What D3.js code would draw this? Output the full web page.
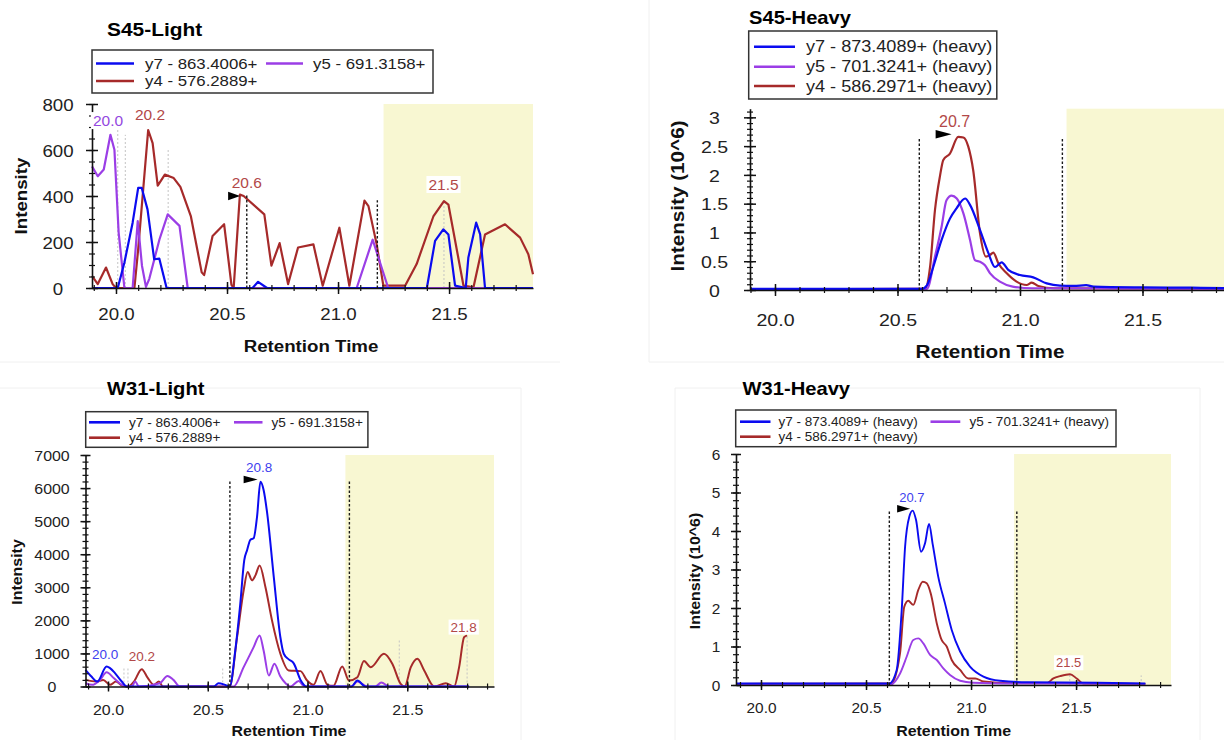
<!DOCTYPE html>
<html>
<head>
<meta charset="utf-8">
<script src="https://cdn.jsdelivr.net/npm/d3@7/dist/d3.min.js"></script>
<style>
html,body{margin:0;padding:0;background:#fff;}
svg{display:block;}
</style>
</head>
<body>
<svg id="chart" width="1224" height="740"></svg>
<script>
// ================= DATA =================
const xTickValues = [20.0, 20.5, 21.0, 21.5];
const s45LightYTicks = [0, 200, 400, 600, 800];
const s45HeavyYTicks = [0, 0.5, 1, 1.5, 2, 2.5, 3];
const w31LightYTicks = [0, 1000, 2000, 3000, 4000, 5000, 6000, 7000];
const w31HeavyYTicks = [0, 1, 2, 3, 4, 5, 6];

const lightLegend = ['y7 - 863.4006+', 'y5 - 691.3158+', 'y4 - 576.2889+'];
const heavyLegend = ['y7 - 873.4089+ (heavy)', 'y5 - 701.3241+ (heavy)', 'y4 - 586.2971+ (heavy)'];

// ---- S45-Light (intensity) : [retention time, intensity]
const s45LightY7 = [[19.892,0],[20.008,0],[20.038,111],[20.075,284],[20.1,435],[20.116,435],[20.142,342],[20.172,125],[20.195,128],[20.228,0],[20.615,0],[20.64,27],[20.68,0],[21.4,0],[21.437,205],[21.474,255],[21.497,233],[21.527,10],[21.575,0],[21.587,133],[21.622,284],[21.64,233],[21.662,0],[21.878,0]];
const s45LightY5 = [[19.892,529],[19.918,486],[19.945,515],[19.975,666],[19.993,601],[20.012,241],[20.038,0],[20.075,0],[20.098,291],[20.117,97],[20.135,5],[20.15,40],[20.196,212],[20.233,320],[20.286,270],[20.323,0],[21.084,0],[21.156,210],[21.226,0],[21.878,0]];
const s45LightY4 = [[19.892,53],[19.918,17],[19.955,89],[19.985,17],[20.0,0],[20.083,0],[20.1,169],[20.145,687],[20.165,630],[20.188,445],[20.22,493],[20.26,478],[20.29,440],[20.337,313],[20.386,68],[20.397,56],[20.435,226],[20.487,277],[20.52,14],[20.53,0],[20.558,406],[20.575,400],[20.668,320],[20.7,97],[20.737,195],[20.775,17],[20.82,176],[20.889,190],[20.931,10],[21.006,262],[21.051,10],[21.119,380],[21.137,356],[21.174,190],[21.204,10],[21.302,10],[21.354,104],[21.43,313],[21.477,378],[21.497,363],[21.565,10],[21.61,3],[21.662,233],[21.752,277],[21.82,219],[21.857,147],[21.878,60]];
const s45LightMarkers = [[20.008,688],[20.042,666],[20.235,600],[21.477,378]];
const s45LightBounds = [[20.589,406],[21.177,382]];
const s45LightLabels = [[19.964,704,'20.0','y5'],[20.153,730,'20.2','y4'],[20.589,435,'20.6','y4'],[21.475,426,'21.5','y4']];
const s45LightArrow = [20.559,400];

// ---- S45-Heavy (intensity x10^6)
const s45HeavyY7 = [[19.898,0.02],[20.6,0.02],[20.62,0.08],[20.646,0.40],[20.68,0.87],[20.714,1.24],[20.741,1.42],[20.776,1.59],[20.796,1.48],[20.837,1.04],[20.871,0.64],[20.898,0.40],[20.925,0.48],[20.952,0.35],[21.0,0.26],[21.054,0.22],[21.109,0.115],[21.163,0.075],[21.22,0.07],[21.27,0.085],[21.3,0.06],[21.5,0.045],[21.7,0.04],[21.9,0.03]];
const s45HeavyY5 = [[19.898,0.01],[20.62,0.02],[20.653,0.58],[20.68,1.10],[20.7,1.56],[20.721,1.64],[20.742,1.59],[20.769,1.33],[20.796,0.87],[20.816,0.52],[20.837,0.49],[20.857,0.43],[20.878,0.29],[20.918,0.145],[20.97,0.06],[21.05,0.03],[21.9,0.02]];
const s45HeavyY4 = [[19.898,0.01],[20.612,0.02],[20.633,0.40],[20.653,1.39],[20.673,1.97],[20.687,2.26],[20.714,2.37],[20.748,2.66],[20.769,2.65],[20.789,2.49],[20.809,2.08],[20.837,0.98],[20.861,0.58],[20.878,0.61],[20.891,0.65],[20.912,0.46],[20.946,0.29],[20.986,0.145],[21.027,0.087],[21.048,0.127],[21.075,0.07],[21.14,0.03],[21.9,0.02]];
const s45HeavyMarkers = [];
const s45HeavyBounds = [[20.589,2.65],[21.173,2.65]];
const s45HeavyLabels = [[20.733,2.84,'20.7','y4']];
const s45HeavyArrow = [20.721,2.706];

// ---- W31-Light (intensity)
const w31LightY7 = [[19.887,505],[19.917,300],[19.946,150],[19.993,605],[20.01,555],[20.035,404],[20.069,150],[20.094,0],[20.53,0],[20.554,100],[20.587,50],[20.61,0],[20.638,1090],[20.663,2500],[20.683,3820],[20.697,4120],[20.714,4440],[20.73,4480],[20.747,5130],[20.764,6190],[20.78,5940],[20.797,5280],[20.831,3310],[20.864,1490],[20.881,990],[20.906,820],[20.931,700],[20.965,200],[20.995,0],[21.22,0],[21.25,180],[21.29,0],[21.81,0]];
const w31LightY5 = [[19.887,100],[19.92,50],[19.96,200],[19.993,430],[20.03,250],[20.07,50],[20.094,0],[20.12,0],[20.136,150],[20.155,0],[20.26,100],[20.298,320],[20.328,200],[20.36,0],[20.63,0],[20.68,585],[20.73,1190],[20.76,1545],[20.78,1090],[20.806,333],[20.834,690],[20.864,300],[20.89,100],[20.914,0],[20.956,170],[20.98,20],[21.0,0],[21.22,0],[21.25,150],[21.3,0],[21.34,0],[21.37,120],[21.41,0],[21.81,0]];
const w31LightY4 = [[19.887,200],[19.943,150],[19.976,200],[20.01,50],[20.04,150],[20.07,30],[20.1,0],[20.13,150],[20.169,525],[20.2,250],[20.23,50],[20.255,150],[20.275,0],[20.61,0],[20.647,1490],[20.68,2910],[20.7,3460],[20.722,3210],[20.739,3360],[20.76,3660],[20.789,3010],[20.822,2000],[20.864,990],[20.906,485],[20.965,465],[20.998,180],[21.03,50],[21.065,465],[21.1,50],[21.13,20],[21.174,606],[21.208,180],[21.25,280],[21.283,770],[21.317,585],[21.383,990],[21.425,690],[21.467,80],[21.487,0],[21.518,585],[21.551,840],[21.585,485],[21.635,0],[21.693,100],[21.735,0],[21.76,585],[21.785,1490],[21.8,1545]];
const w31LightMarkers = [[20.08,600],[20.1,600],[20.575,550],[21.46,1390],[21.8,1545]];
const w31LightBounds = [[20.611,6250],[21.21,6250]];
const w31LightLabels = [[20.758,6479,'20.8','y7'],[21.783,1660,'21.8','y4'],[19.986,824,'20.0','y7'],[20.17,782,'20.2','y4']];
const w31LightArrow = [20.75,6260];

// ---- W31-Heavy (intensity x10^6)
const w31HeavyY7 = [[19.881,0.04],[20.611,0.04],[20.646,0.39],[20.67,1.95],[20.686,3.59],[20.706,4.37],[20.722,4.53],[20.738,4.29],[20.762,3.46],[20.781,3.68],[20.8,4.18],[20.818,3.64],[20.844,2.81],[20.876,2.12],[20.908,1.43],[20.948,0.87],[20.995,0.48],[21.059,0.22],[21.138,0.11],[21.27,0.07],[21.6,0.06],[21.83,0.04]];
const w31HeavyY5 = [[19.881,0.02],[20.62,0.02],[20.662,0.30],[20.694,0.74],[20.725,1.17],[20.749,1.21],[20.773,1.08],[20.805,0.78],[20.837,0.65],[20.868,0.43],[20.9,0.26],[20.948,0.11],[21.01,0.06],[21.2,0.04],[21.83,0.03]];
const w31HeavyY4 = [[19.881,0.03],[20.62,0.04],[20.662,0.82],[20.682,2.03],[20.701,2.19],[20.725,2.08],[20.749,2.47],[20.77,2.68],[20.789,2.64],[20.808,2.38],[20.837,1.60],[20.86,1.17],[20.884,1.00],[20.908,0.65],[20.948,0.39],[20.987,0.17],[21.02,0.17],[21.06,0.09],[21.186,0.05],[21.36,0.05],[21.392,0.17],[21.424,0.23],[21.471,0.28],[21.503,0.17],[21.535,0.04],[21.83,0.03]];
const w31HeavyMarkers = [[21.47,0.3],[21.81,0.25]];
const w31HeavyBounds = [[20.611,4.55],[21.218,4.55]];
const w31HeavyLabels = [[20.718,4.76,'20.7','y7'],[21.465,0.46,'21.5','y4']];
const w31HeavyArrow = [20.71,4.58];

// ================= STYLE / LAYOUT =================
const COLORS = {y7:'#0b0bf0', y5:'#9b3ee6', y4:'#a62a2a'};
const LABEL_COLORS = {y7:'#4040ee', y5:'#9448e0', y4:'#b24848'};
const YELLOW = '#f8f7d2';
const FONT = '"Liberation Sans", Arial, Helvetica, sans-serif';

const panels = [
  { title:'S45-Light', tx:107, ty:36, tsize:19, tsx:1.1,
    xl:92, xr:533, xd:[19.892,21.878], yb:288, yt:104, yd:[0,800],
    yTicks:s45LightYTicks, yMinor:50, shade:21.205,
    tickSize:17, sx:1.1, xLabY:320, yLabX:58, majLen:6, minLen:3,
    xTitle:[311,352], yTitle:[27,196], axTitleSize:17,
    legend:{box:[92,50,433,93], size:15, sx:1.12, names:lightLegend,
      items:[{k:'y7',i:0,l:[96,134],t:145,y:63.5},{k:'y5',i:1,l:[266,303],t:313,y:63.5},{k:'y4',i:2,l:[96,134],t:145,y:81}]},
    series:{y4:s45LightY4, y5:s45LightY5, y7:s45LightY7}, lw:2.2, curve:d3.curveLinear,
    markers:s45LightMarkers, bounds:s45LightBounds, labels:s45LightLabels, labelSize:15.5, arrow:s45LightArrow, arrowWH:[12,8.5]
  },
  { title:'S45-Heavy', tx:749, ty:24, tsize:18, tsx:1.12,
    xl:750, xr:1240.5, xd:[19.898,21.9], yb:290, yt:108.7, yd:[0,3.15],
    yTicks:s45HeavyYTicks, yMinor:0.1, shade:21.19,
    tickSize:17, sx:1.15, xLabY:326, yLabX:714.5, majLen:6, minLen:3,
    xTitle:[990,358], yTitle:[684,196], axTitleSize:18,
    legend:{box:[748.7,31,996.8,99], size:16, sx:1.13, names:heavyLegend,
      items:[{k:'y7',i:0,l:[754,795],t:806,y:46.7},{k:'y5',i:1,l:[754,795],t:806,y:66.7},{k:'y4',i:2,l:[754,795],t:806,y:86}]},
    series:{y4:s45HeavyY4, y5:s45HeavyY5, y7:s45HeavyY7}, lw:2.2, curve:d3.curveMonotoneX,
    markers:s45HeavyMarkers, bounds:s45HeavyBounds, labels:s45HeavyLabels, labelSize:16, arrow:s45HeavyArrow, arrowWH:[16,8.5]
  },
  { title:'W31-Light', tx:107, ty:395, tsize:18, tsx:1.12,
    xl:85.5, xr:494, xd:[19.8872,21.9348], yb:686.5, yt:455, yd:[0,7000],
    yTicks:w31LightYTicks, yMinor:200, shade:21.19,
    tickSize:14.5, sx:1.1, xLabY:715, yLabX:52, majLen:5, minLen:3,
    xTitle:[289,736], yTitle:[21.5,572], axTitleSize:14.5,
    legend:{box:[85.7,411.7,367.9,447.3], size:13, sx:1.05, names:lightLegend,
      items:[{k:'y7',i:0,l:[89,120],t:129,y:422.3},{k:'y5',i:1,l:[234,262.5],t:271.5,y:422.3},{k:'y4',i:2,l:[89,120],t:129,y:437.7}]},
    series:{y4:w31LightY4, y5:w31LightY5, y7:w31LightY7}, lw:2, curve:d3.curveMonotoneX,
    markers:w31LightMarkers, bounds:w31LightBounds, labels:w31LightLabels, labelSize:13.5, arrow:w31LightArrow, arrowWH:[14,7.5]
  },
  { title:'W31-Heavy', tx:742.5, ty:395, tsize:18, tsx:1.12,
    xl:736, xr:1171, xd:[19.881,21.952], yb:685, yt:454, yd:[0,6],
    yTicks:w31HeavyYTicks, yMinor:0.2, shade:21.205,
    tickSize:14, sx:1.1, xLabY:713, yLabX:716, majLen:5, minLen:3,
    xTitle:[953.6,736], yTitle:[700,571], axTitleSize:14.5,
    legend:{box:[735.7,410,1116,446.7], size:13, sx:1.04, names:heavyLegend,
      items:[{k:'y7',i:0,l:[740,770.5],t:778.5,y:421.7},{k:'y5',i:1,l:[930.5,960.3],t:969.6,y:421.7},{k:'y4',i:2,l:[740,770.5],t:778.5,y:436.7}]},
    series:{y4:w31HeavyY4, y5:w31HeavyY5, y7:w31HeavyY7}, lw:1.9, curve:d3.curveMonotoneX,
    markers:w31HeavyMarkers, bounds:w31HeavyBounds, labels:w31HeavyLabels, labelSize:13, arrow:w31HeavyArrow, arrowWH:[13,7.5]
  }
];

const svg = d3.select('#chart');

// faint panel frames
const frames = [[0,362,560,362],[649,0,649,362],[649,362,1224,362],[0,388,521,388],[521,388,521,740],[675,388,1200,388],[675,388,675,740],[1200,388,1200,740]];
svg.append('g').selectAll('line').data(frames).join('line')
  .attr('x1',d=>d[0]).attr('y1',d=>d[1]).attr('x2',d=>d[2]).attr('y2',d=>d[3])
  .attr('stroke','#f0f0f0').attr('stroke-width',1);

function sText(g, x, y, str, o) {
  return g.append('text')
    .attr('transform', `translate(${x},${y})${o.rot ? ' rotate(' + o.rot + ')' : ''} scale(${o.sx || 1},1)`)
    .attr('text-anchor', o.anchor || 'start')
    .attr('font-family', FONT).attr('font-size', o.size)
    .attr('font-weight', o.weight || 'normal')
    .attr('fill', o.fill || '#000')
    .text(str);
}

function drawPanel(p) {
  const g = svg.append('g');
  const x = d3.scaleLinear().domain(p.xd).range([p.xl, p.xr]);
  const y = d3.scaleLinear().domain(p.yd).range([p.yb, p.yt]);

  // shaded region
  g.append('rect').attr('x', x(p.shade)).attr('y', y(p.yd[1]))
    .attr('width', x(p.xd[1]) - x(p.shade)).attr('height', y(p.yd[0]) - y(p.yd[1]))
    .attr('fill', YELLOW);

  // apex markers
  g.append('g').selectAll('line').data(p.markers).join('line')
    .attr('x1', d => x(d[0])).attr('x2', d => x(d[0]))
    .attr('y1', y(0)).attr('y2', d => y(d[1]))
    .attr('stroke', '#c4c4c4').attr('stroke-width', 1).attr('stroke-dasharray', '2,2');

  // series
  const line = d3.line().x(d => x(d[0])).y(d => y(d[1])).curve(p.curve);
  ['y4', 'y5', 'y7'].forEach(k => {
    g.append('path').datum(p.series[k]).attr('d', line)
      .attr('fill', 'none').attr('stroke', COLORS[k]).attr('stroke-width', p.lw)
      .attr('stroke-linejoin', 'round');
  });

  // integration boundaries
  g.append('g').selectAll('line').data(p.bounds).join('line')
    .attr('x1', d => x(d[0])).attr('x2', d => x(d[0]))
    .attr('y1', y(0)).attr('y2', d => y(d[1]))
    .attr('stroke', '#1a1a1a').attr('stroke-width', 1.4).attr('stroke-dasharray', '2.5,2');

  // axes: minor ticks
  const xMinor = d3.range(19.9, p.xd[1] + 1e-6, 0.1).map(v => +v.toFixed(2)).filter(v => v >= p.xd[0]);
  const yMinorVals = d3.range(0, p.yd[1] + 1e-9, p.yMinor).map(v => +v.toFixed(3));

  const xAxisG = g.append('g').attr('transform', `translate(0,${y(0)})`);
  xAxisG.call(d3.axisBottom(x).tickValues(xMinor).tickFormat('').tickSizeOuter(0).tickSizeInner(0));
  xAxisG.selectAll('.tick line').attr('y1', -p.minLen).attr('y2', p.minLen).attr('stroke', '#111').attr('stroke-width', 1.2);
  xAxisG.select('.domain').attr('stroke', '#111').attr('stroke-width', 1.6);
  const xMajG = g.append('g').attr('transform', `translate(0,${y(0)})`);
  xMajG.call(d3.axisBottom(x).tickValues(xTickValues).tickFormat(d3.format('.1f')).tickSizeOuter(0).tickSizeInner(0));
  xMajG.select('.domain').remove();
  xMajG.selectAll('.tick line').attr('y1', -p.majLen).attr('y2', p.majLen).attr('stroke', '#111').attr('stroke-width', 1.5);
  xMajG.selectAll('.tick text').attr('y', null).attr('dy', null)
    .attr('transform', `translate(0,${p.xLabY - y(0)}) scale(${p.sx},1)`)
    .attr('font-family', FONT).attr('font-size', p.tickSize).attr('fill', '#222').attr('text-anchor', 'middle');

  const yAxisG = g.append('g').attr('transform', `translate(${p.xl},0)`);
  yAxisG.call(d3.axisLeft(y).tickValues(yMinorVals).tickFormat('').tickSizeOuter(0).tickSizeInner(0));
  yAxisG.selectAll('.tick line').attr('x1', -p.minLen).attr('x2', p.minLen).attr('stroke', '#111').attr('stroke-width', 1.2);
  yAxisG.select('.domain').attr('stroke', '#111').attr('stroke-width', 1.6);
  const yMajG = g.append('g').attr('transform', `translate(${p.xl},0)`);
  yMajG.call(d3.axisLeft(y).tickValues(p.yTicks).tickFormat(d => String(d)).tickSizeOuter(0).tickSizeInner(0));
  yMajG.select('.domain').remove();
  yMajG.selectAll('.tick line').attr('x1', -p.majLen).attr('x2', p.majLen).attr('stroke', '#111').attr('stroke-width', 1.5);
  yMajG.selectAll('.tick text').attr('x', null).attr('dy', null)
    .attr('transform', `translate(${p.yLabX - p.xl},${p.tickSize * 0.36}) scale(${p.sx},1)`)
    .attr('font-family', FONT).attr('font-size', p.tickSize).attr('fill', '#222').attr('text-anchor', 'middle');

  // axis titles
  sText(g, p.xTitle[0], p.xTitle[1], 'Retention Time', {size:p.axTitleSize, weight:'bold', anchor:'middle', sx:p.sx, fill:'#111'});
  const yt = p.yd[1] > 100 ? 'Intensity' : 'Intensity (10^6)';
  sText(g, p.yTitle[0], p.yTitle[1], yt, {size:p.axTitleSize, weight:'bold', anchor:'middle', sx:p.sx, rot:-90, fill:'#111'});

  // title
  sText(g, p.tx, p.ty, p.title, {size:p.tsize, weight:'bold', sx:p.tsx, fill:'#000'});

  // retention-time labels with white background
  p.labels.forEach(([t, v, txt, k]) => {
    const lg = g.append('g').attr('transform', `translate(${x(t)},${y(v)})`);
    const r = lg.append('rect').attr('fill', '#fff');
    const te = lg.append('text').attr('text-anchor', 'middle').attr('font-family', FONT)
      .attr('font-size', p.labelSize).attr('fill', LABEL_COLORS[k]).text(txt);
    const bb = te.node().getBBox();
    r.attr('x', bb.x - 2).attr('y', bb.y).attr('width', bb.width + 4).attr('height', bb.height);
  });

  // peak arrow
  const [at, av] = p.arrow, [aw, ah] = p.arrowWH;
  const ax = x(at), ay = y(av);
  g.append('path').attr('d', `M${ax},${ay}L${ax - aw},${ay - ah / 2}L${ax - aw},${ay + ah / 2}Z`).attr('fill', '#000');

  // legend
  const L = p.legend;
  const lg = g.append('g');
  lg.append('rect').attr('x', L.box[0]).attr('y', L.box[1]).attr('width', L.box[2] - L.box[0]).attr('height', L.box[3] - L.box[1])
    .attr('fill', '#fff').attr('stroke', '#333').attr('stroke-width', 1.5);
  L.items.forEach(it => {
    lg.append('line').attr('x1', it.l[0]).attr('x2', it.l[1]).attr('y1', it.y).attr('y2', it.y)
      .attr('stroke', COLORS[it.k]).attr('stroke-width', 2.6);
    sText(lg, it.t, it.y + L.size * 0.36, L.names[it.i], {size:L.size, sx:L.sx, fill:'#222'});
  });
}

panels.forEach(drawPanel);
</script>
</body>
</html>
